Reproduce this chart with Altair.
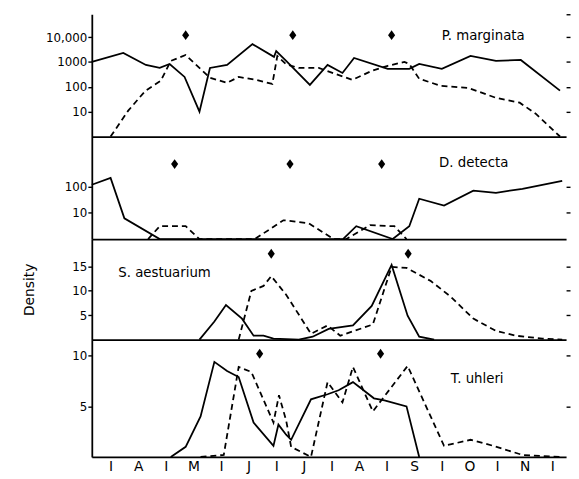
import altair as alt
import pandas as pd

# ---------------- data (x = month number, 4 = 1 April; y = density) -------------
pm_solid_m = [3.66, 4.23, 4.64, 4.89, 5.07, 5.34, 5.61, 5.80, 6.11, 6.57, 6.96, 7.00, 7.18,
              7.61, 7.93, 8.20, 8.41, 9.02, 9.41, 9.59, 10.00, 10.52, 10.98, 11.43, 12.14]
pm_solid_v = [1000, 2300, 760, 575, 830, 250, 10, 575, 760, 5200, 1600, 2750, 1100,
              120, 760, 360, 1450, 525, 525, 830, 525, 1740, 1100, 1200, 70]
pm_dash_m = [4.00, 4.32, 4.63, 4.91, 5.09, 5.36, 5.80, 6.11, 6.32, 6.64, 6.93, 7.02, 7.18,
             7.41, 7.77, 8.07, 8.38, 8.73, 9.02, 9.32, 9.41, 9.59, 9.98, 10.48, 10.98,
             11.41, 11.70, 12.14]
pm_dash_v = [1, 11, 69, 175, 1100, 1900, 230, 145, 250, 190, 130, 1740, 800,
             575, 575, 330, 190, 440, 700, 1000, 830, 210, 110, 90, 36,
             23, 8.3, 1]
pm_dia_m = [5.36, 7.30, 9.09]

dd_solid_m = [3.66, 4.00, 4.25, 4.89, 8.21, 8.45, 9.11, 9.41, 9.59, 10.04, 10.57, 10.98, 11.46, 12.18]
dd_solid_v = [120, 220, 6.2, 1, 1, 3.1, 1, 3.1, 35, 19, 71, 59, 84, 170]
dd_dash_m = [4.68, 4.89, 5.36, 5.61, 6.61, 7.13, 7.18, 7.59, 8.04, 8.27, 8.70, 9.14, 9.36]
dd_dash_v = [1, 3.1, 3.1, 1, 1, 5.2, 5.2, 4, 1, 1, 3.4, 3.1, 1]
dd_dia_m = [5.16, 7.25, 8.91]

sa_solid_m = [5.61, 5.88, 6.09, 6.38, 6.59, 6.77, 6.95, 7.41, 7.66, 7.95, 8.39, 8.73, 9.09, 9.38, 9.59, 9.86]
sa_solid_v = [0, 3.7, 7.1, 4.3, 0.8, 0.8, 0.2, 0, 0.6, 2.2, 2.9, 6.9, 15.3, 4.9, 0.6, 0]
sa_dash_m = [6.32, 6.55, 6.77, 6.91, 7.18, 7.63, 7.93, 8.16, 8.75, 9.09, 9.36, 9.80, 10.16,
             10.57, 10.98, 11.34, 11.82, 12.18]
sa_dash_v = [0, 10, 11, 13, 9.2, 1.2, 2.9, 0.8, 3.1, 14.9, 14.7, 12, 8.8,
             4.3, 1.8, 0.8, 0.2, 0]
sa_dia_m = [6.91, 9.39]

tu_solid_m = [5.09, 5.36, 5.63, 5.88, 6.11, 6.32, 6.59, 6.95, 7.04, 7.18, 7.27, 7.63, 7.93,
              8.13, 8.39, 8.77, 8.96, 9.36, 9.59]
tu_solid_v = [0, 1, 4, 9.4, 8.5, 7.9, 3.4, 1.1, 3.2, 2.2, 1.7, 5.7, 6.2,
              6.6, 7.4, 5.8, 5.6, 5.0, 0]
tu_dash_m = [5.63, 6.05, 6.32, 6.55, 6.95, 7.05, 7.18, 7.27, 7.63, 7.93, 8.20, 8.39, 8.75,
             9.38, 10.04, 10.52, 10.93, 11.46, 12.13]
tu_dash_v = [0, 0.2, 8.9, 8.4, 3.4, 6.1, 3.6, 1.0, 0, 7.4, 5.4, 8.9, 4.5,
             9.0, 1.1, 1.7, 1.1, 0.2, 0]
tu_dia_m = [6.70, 8.89]

month_ticks = [4, 4.5, 5, 5.5, 6, 6.5, 7, 7.5, 8, 8.5, 9, 9.5, 10, 10.5, 11, 11.5, 12]
month_letters = ["I", "A", "I", "M", "I", "J", "I", "J", "I", "A", "I", "S", "I", "O", "I", "N", "I"]

FONT = "DejaVu Sans"
X_MIN, X_MAX = 3.66, 12.25
W = 481
DIAMOND = "M0,-1L0.72,0L0,1L-0.72,0Z"

label_map = "{" + ",".join(f"'{v}':'{t}'" for v, t in zip(month_ticks, month_letters)) + "}"


def panel(sm, sv, dm, dv, diam, diav, name, name_m, name_v, yscale, yvals, ylabexpr,
          rvals, height, bottom=False, ytitle=None):
    xscale = alt.Scale(domain=[X_MIN, X_MAX], nice=False, zero=False)
    if bottom:
        xaxis = alt.Axis(values=month_ticks, labelExpr=label_map + "[toString(datum.value)]",
                         ticks=False, grid=False, title=None, labelFontSize=14,
                         labelPadding=3, labelFont=FONT, labelFlush=False)
    else:
        xaxis = alt.Axis(labels=False, ticks=False, grid=False, title=None)

    left_kwargs = dict(values=yvals, grid=False, labelFontSize=12, labelFont=FONT,
                       tickSize=4, labelPadding=1)
    if ylabexpr:
        left_kwargs["labelExpr"] = ylabexpr
    if ytitle:
        left_kwargs.update(title=ytitle, titleFontSize=14, titleFontWeight="normal",
                           titleFont=FONT, titleX=-63, titleY=height / 2,
                           titleBaseline="middle", titleAlign="center", titleAngle=270)
    else:
        left_kwargs["title"] = None
    left_axis = alt.Axis(**left_kwargs)
    right_axis = alt.Axis(values=rvals, labels=False, domain=False, grid=False, title=None,
                          tickSize=4, orient="right")

    df_s = pd.DataFrame({"m": sm, "v": sv})
    df_d = pd.DataFrame({"m": dm, "v": dv})
    df_dia = pd.DataFrame({"m": diam, "v": [diav] * len(diam)})
    df_t = pd.DataFrame({"m": [name_m], "v": [name_v], "t": [name]})

    solid = alt.Chart(df_s).mark_line(color="black", strokeWidth=1.8).encode(
        x=alt.X("m:Q", scale=xscale, axis=xaxis),
        y=alt.Y("v:Q", scale=yscale, axis=left_axis))
    dashed = alt.Chart(df_d).mark_line(color="black", strokeWidth=1.8, strokeDash=[6, 4]).encode(
        x=alt.X("m:Q", scale=xscale, axis=xaxis),
        y=alt.Y("v:Q", scale=yscale, axis=None))
    dia = alt.Chart(df_dia).mark_point(shape=DIAMOND, filled=True, size=100, color="black",
                                       opacity=1).encode(
        x=alt.X("m:Q", scale=xscale, axis=xaxis),
        y=alt.Y("v:Q", scale=yscale, axis=right_axis))
    txt = alt.Chart(df_t).mark_text(align="left", baseline="middle", fontSize=13.5,
                                    font=FONT, color="black").encode(
        x=alt.X("m:Q", scale=xscale, axis=xaxis),
        y=alt.Y("v:Q", scale=yscale, axis=None),
        text="t:N")
    return alt.layer(solid, dashed, dia, txt).resolve_axis(y="independent").properties(
        width=W, height=height)


p1 = panel(pm_solid_m, pm_solid_v, pm_dash_m, pm_dash_v, pm_dia_m, 12000,
           "P. marginata", 10.0, 11000,
           alt.Scale(type="log", domain=[1, 83000], nice=False, clamp=True),
           [10, 100, 1000, 10000],
           "datum.value >= 10000 ? format(datum.value, ',') : format(datum.value, 'd')",
           [10, 100, 1000, 10000, 83000], 124)
p2 = panel(dd_solid_m, dd_solid_v, dd_dash_m, dd_dash_v, dd_dia_m, 740,
           "D. detecta", 9.95, 800,
           alt.Scale(type="log", domain=[1, 8400], nice=False, clamp=True),
           [10, 100], "format(datum.value, 'd')", [10, 100], 104)
p3 = panel(sa_solid_m, sa_solid_v, sa_dash_m, sa_dash_v, sa_dia_m, 17.6,
           "S. aestuarium", 4.14, 13.7,
           alt.Scale(domain=[0, 20.6], nice=False, zero=True),
           [5, 10, 15], None, [5, 10, 15], 102, ytitle="Density")
p4 = panel(tu_solid_m, tu_solid_v, tu_dash_m, tu_dash_v, tu_dia_m, 10.2,
           "T. uhleri", 10.16, 7.7,
           alt.Scale(domain=[0, 11.6], nice=False, zero=True),
           [5, 10], None, [5, 10], 119, bottom=True)

chart = alt.vconcat(p1, p2, p3, p4, spacing=0, bounds="flush").properties(
    padding={"left": 15, "top": 2, "right": 0, "bottom": 2}
).configure_view(stroke=None).configure_axis(
    domainColor="black", tickColor="black", labelColor="black", titleColor="black",
    domainWidth=1.8, tickWidth=1.4
)

chart.save("out.html", embed_options={"renderer": "svg", "actions": False})
